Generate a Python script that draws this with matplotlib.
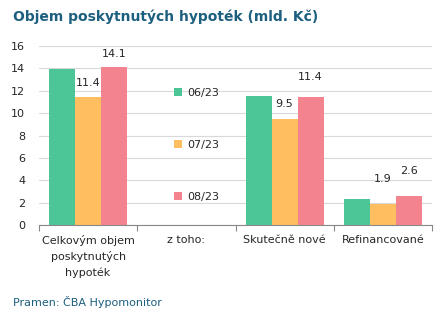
import numpy as np
import matplotlib.pyplot as plt

categories = ["Celkovým objem\nposkytnutých\nhypoték", "z toho:", "Skutečně nové", "Refinancované"]
series = ["06/23", "07/23", "08/23"]
v_0623 = [13.9, np.nan, 11.5, 2.3]
v_0723 = [11.4, np.nan, 9.5, 1.9]
v_0823 = [14.1, np.nan, 11.4, 2.6]
colors = ["#4DC697", "#FFBE5F", "#F3848F"]

# which bars get a value label (series index, category index, offset in px)
labels = [(1, 0, 9), (2, 0, 8), (1, 2, 10), (2, 2, 15), (1, 3, 20), (2, 3, 20)]

fig = plt.figure(figsize=(4.45, 3.14), dpi=100)
ax = fig.add_axes([39 / 445, 1 - 225 / 314, 393 / 445, 179 / 314])

x = np.arange(len(categories))
w = 0.265
vals = [v_0623, v_0723, v_0823]
for i, (name, v) in enumerate(zip(series, vals)):
    ax.bar(x + (i - 1) * w, v, w, color=colors[i], label=name, zorder=2)

for si, ci, off in labels:
    val = vals[si][ci]
    ax.annotate(f"{val:.1f}", (x[ci] + (si - 1) * w, val), xytext=(0, off * 0.72),
                textcoords="offset points", ha="center", va="bottom",
                fontsize=8, color="#262626")

ax.set_xlim(-0.5, 3.5)
ax.set_ylim(0, 16)
ax.set_yticks(range(0, 17, 2))
ax.yaxis.grid(True, color="#D9D9D9", lw=0.8, zorder=0)
ax.tick_params(axis="y", length=0, labelsize=8, labelcolor="#262626", pad=10)
for s in ["left", "right", "top"]:
    ax.spines[s].set_visible(False)
ax.spines["bottom"].set_color("#888888")

ax.set_xticks(np.arange(-0.5, 3.6, 1.0))
ax.set_xticklabels([])
ax.tick_params(axis="x", length=4, color="#888888")
for xi, c in zip(x, categories):
    ax.text(xi, -0.9, c, ha="center", va="top", fontsize=8, color="#262626",
            linespacing=1.6)

leg = ax.legend(loc="upper left", bbox_to_anchor=(0.318, 0.82), frameon=False,
                fontsize=8, handlelength=0.75, handleheight=0.75,
                handletextpad=0.4, labelspacing=3.75, labelcolor="#262626")

fig.text(13 / 445, 1 - 17 / 314, "Objem poskytnutých hypoték (mld. Kč)",
         fontsize=10, fontweight="bold", color="#1D5F7E", va="center")
fig.text(13 / 445, 1 - 302 / 314, "Pramen: ČBA Hypomonitor",
         fontsize=8, color="#1D5F7E", va="center")

fig.savefig("out.png", dpi=100)
